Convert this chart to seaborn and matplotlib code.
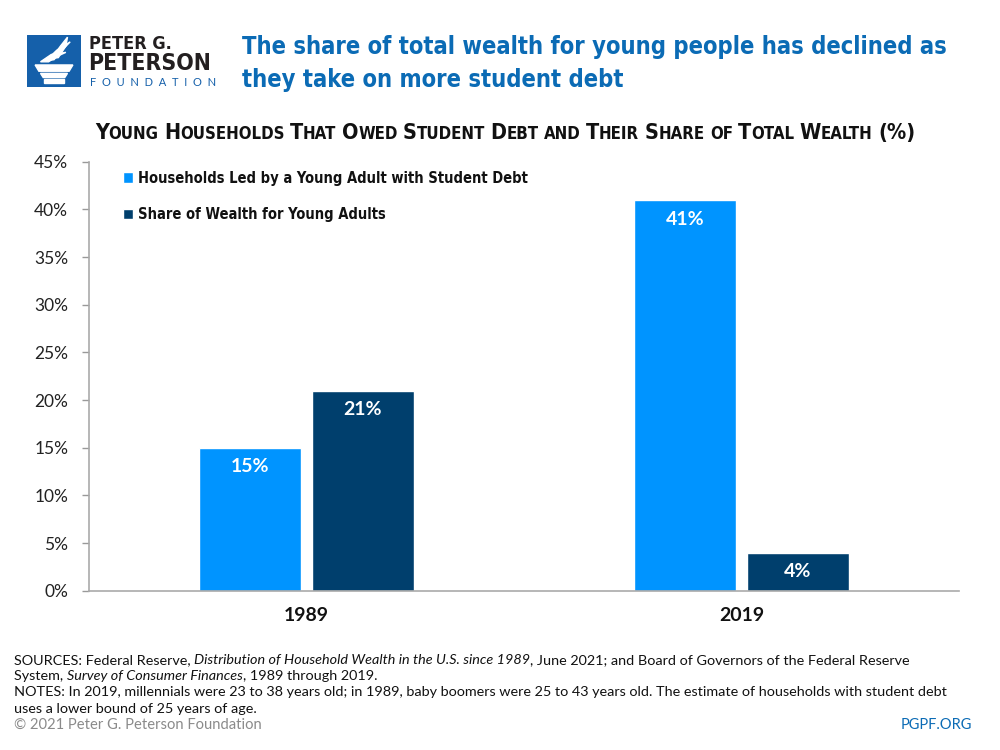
import numpy as np
import pandas as pd
import matplotlib
matplotlib.use('Agg')
import matplotlib.pyplot as plt
from matplotlib.patches import Rectangle, Polygon
from matplotlib.offsetbox import TextArea, HPacker, AnchoredOffsetbox
import seaborn as sns

# Data
years = ['1989', '2019']
student_debt = [15, 41]
wealth_share = [21, 4]
series_names = ['Households Led by a Young Adult with Student Debt',
                'Share of Wealth for Young Adults']
yticks = [0, 5, 10, 15, 20, 25, 30, 35, 40, 45]

light_blue = '#0094FF'
navy = '#003F6D'
title_blue = '#0B6BB5'
logo_blue = '#1560AA'

sns.set_style('white')
plt.rcParams['font.family'] = ['Lato', 'DejaVu Sans']
cond = dict(family=['DejaVu Sans'], stretch='condensed', weight='bold')

df = pd.DataFrame({
    'year': years * 2,
    'value': student_debt + wealth_share,
    'series': [series_names[0]] * 2 + [series_names[1]] * 2,
})

fig = plt.figure(figsize=(10, 7.5), dpi=100)
ax = fig.add_axes([0.089, 0.2124, 0.870, 0.572])

sns.barplot(data=df, x='year', y='value', hue='series', hue_order=series_names,
            palette=[light_blue, navy], width=0.517, gap=0.09, saturation=1,
            ax=ax)

ax.set_xlim(-0.5, 1.5)
ax.set_ylim(0, 45)
ax.set_yticks(yticks)
ax.set_yticklabels([f'{v}%' for v in yticks], fontsize=12.5, color='#222222')
ax.set_xticklabels(years, fontsize=14, fontweight='bold', color='#111111')
ax.set_xlabel('')
ax.set_ylabel('')
ax.tick_params(axis='y', length=5, color='#999999', width=1, pad=10, left=True)
ax.tick_params(axis='x', length=0, pad=12)
for s in ['top', 'right']:
    ax.spines[s].set_visible(False)
for s in ['left', 'bottom']:
    ax.spines[s].set_color('#AAAAAA')
    ax.spines[s].set_linewidth(1.2)

for cont in ax.containers:
    ax.bar_label(cont, labels=[f'{v:.0f}%' for v in cont.datavalues],
                 padding=-20, color='white', fontsize=14, fontweight='bold')

# Legend
leg = ax.legend(loc='upper left', bbox_to_anchor=(0.110, 0.790),
                bbox_transform=fig.transFigure, frameon=False,
                handlelength=0.7, handleheight=0.7, handletextpad=0.3,
                labelspacing=1.45, prop=dict(cond, size=10.5))
for t in leg.get_texts():
    t.set_color('#111111')

# Title
fig.text(0.242, 0.937, 'The share of total wealth for young people has declined as',
         fontsize=17, color=title_blue, va='center', ha='left', **cond)
fig.text(0.242, 0.893, 'they take on more student debt',
         fontsize=17, color=title_blue, va='center', ha='left', **cond)

# Subtitle in small caps
sub = 'Young Households That Owed Student Debt and Their Share of Total Wealth (%)'
parts = []
for word in sub.split(' '):
    if word[0] == '(':
        parts.append((word, 15.5))
    elif word[0].isupper():
        parts.append((word[0], 15.5))
        parts.append((word[1:].upper(), 12.1))
    else:
        parts.append((word.upper(), 12.1))
    parts.append((' ', 12.1))
parts = parts[:-1]
boxes = [TextArea(t, textprops=dict(cond, size=s, color='#111111')) for t, s in parts]
pack = HPacker(children=boxes, align='baseline', pad=0, sep=0)
anch = AnchoredOffsetbox(loc='center', child=pack, frameon=False,
                         bbox_to_anchor=(0.505, 0.823), bbox_transform=fig.transFigure,
                         pad=0, borderpad=0)
fig.add_artist(anch)

# Logo
lax = fig.add_axes([0.027, 0.884, 0.054, 0.070])
lax.set_xlim(0, 1)
lax.set_ylim(0, 1)
lax.axis('off')
lax.add_patch(Rectangle((0, 0), 1, 1, color=logo_blue))
lax.add_patch(Polygon([(0.15, 0.42), (0.85, 0.42), (0.78, 0.30), (0.22, 0.30)], color='white'))
lax.add_patch(Polygon([(0.25, 0.26), (0.75, 0.26), (0.70, 0.18), (0.30, 0.18)], color='white'))
lax.add_patch(Rectangle((0.32, 0.08), 0.36, 0.08, color='white'))
lax.add_patch(Polygon([(0.25, 0.48), (0.45, 0.62), (0.72, 0.66), (0.55, 0.58), (0.40, 0.48)], color='white'))
lax.add_patch(Polygon([(0.35, 0.50), (0.55, 0.70), (0.80, 0.86), (0.65, 0.70), (0.50, 0.52)], color='white'))
lax.add_patch(Polygon([(0.45, 0.54), (0.62, 0.78), (0.75, 0.95), (0.72, 0.78), (0.58, 0.56)], color='white'))

fig.text(0.089, 0.941, 'PETER G.', fontsize=13, color='#231F20', va='center', ha='left', **cond)
fig.text(0.088, 0.915, 'PETERSON', fontsize=16.5, color='#231F20', va='center', ha='left', **cond)
fig.text(0.090, 0.890, 'F  O  U  N  D  A  T  I  O  N', fontsize=8, family=['Lato', 'DejaVu Sans'],
         color=logo_blue, va='center', ha='left')

# Footer
foot = 10.4


def rich_line(pieces, y):
    boxes = [TextArea(t, textprops=dict(fontsize=foot, style=st, color='#111111'))
             for t, st in pieces]
    pack = HPacker(children=boxes, align='baseline', pad=0, sep=0)
    a = AnchoredOffsetbox(loc='center left', child=pack, frameon=False,
                          bbox_to_anchor=(0.014, y), bbox_transform=fig.transFigure,
                          pad=0, borderpad=0)
    fig.add_artist(a)


rich_line([('SOURCES: Federal Reserve, ', 'normal'),
           ('Distribution of Household Wealth in the U.S. since 1989', 'italic'),
           (', June 2021; and Board of Governors of the Federal Reserve', 'normal')], 0.120)
rich_line([('System, ', 'normal'), ('Survey of Consumer Finances', 'italic'),
           (', 1989 through 2019.', 'normal')], 0.098)
rich_line([('NOTES: In 2019, millennials were 23 to 38 years old; in 1989, baby boomers were 25 to 43 years old. '
            'The estimate of households with student debt', 'normal')], 0.077)
rich_line([('uses a lower bound of 25 years of age.', 'normal')], 0.055)

fig.text(0.014, 0.033, '\u00a9 2021 Peter G. Peterson Foundation', fontsize=10.6,
         color='#8A8A8A', va='center', ha='left')
fig.text(0.972, 0.033, 'PGPF.ORG', fontsize=10.5, color=title_blue, va='center', ha='right')

fig.savefig('out.png', dpi=100)
